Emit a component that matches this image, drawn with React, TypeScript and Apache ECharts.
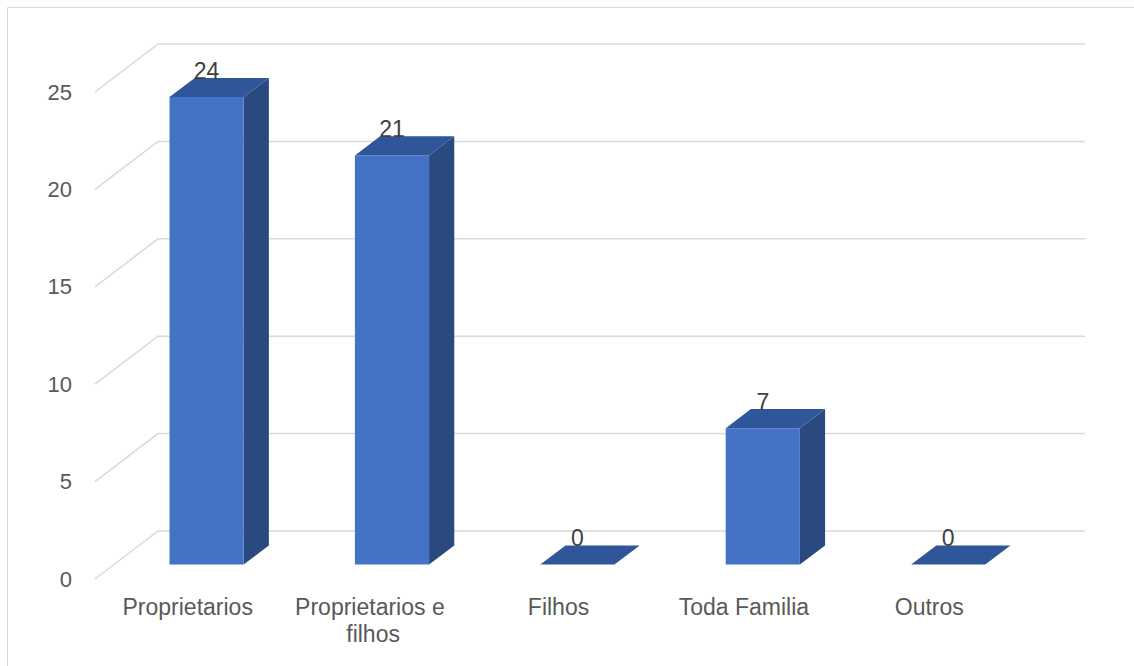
import React, { useEffect, useRef } from "react";
import * as echarts from "echarts";

// Chart data
const categories = ["Proprietarios", "Proprietarios e filhos", "Filhos", "Toda Familia", "Outros"];
const values = [24, 21, 0, 7, 0];
const yTicks = [0, 5, 10, 15, 20, 25];

// 3D look: floor depth vector (front edge -> back wall) in pixels
const DEPTH_X = 63;
const DEPTH_Y = -48;
// bar placement inside the floor depth and band
const BAR_FRONT = 0.3;
const BAR_BACK = 0.7;
const BAR_WIDTH = 0.4;

const FRONT_COLOR = "#4472C4";
const SIDE_COLOR = "#2A4A7F";
const TOP_COLOR = "#30569A";
const GRID_COLOR = "#d9d9d9";
const FONT = "Liberation Sans, Arial, sans-serif";

export default function App() {
  const ref = useRef<HTMLDivElement>(null);

  useEffect(() => {
    const chart = echarts.init(ref.current!, null, { renderer: "svg" });

    const option = {
      animation: false,
      backgroundColor: "#ffffff",
      graphic: [
        {
          type: "rect",
          silent: true,
          shape: { x: 7.5, y: 7.5, width: 1140, height: 670 },
          style: { fill: "none", stroke: GRID_COLOR, lineWidth: 1 },
        },
      ],
      grid: { left: 95, right: 112, top: 92, bottom: 87, containLabel: false },
      xAxis: {
        type: "category",
        data: categories,
        axisLine: { show: false },
        axisTick: { show: false },
        splitLine: { show: false },
        axisLabel: {
          interval: 0,
          color: "#595959",
          fontSize: 23,
          fontFamily: FONT,
          margin: 14,
          width: 180,
          overflow: "break",
          lineHeight: 27,
        },
      },
      yAxis: {
        type: "value",
        min: 0,
        max: 25,
        interval: 5,
        axisLine: { show: false },
        axisTick: { show: false },
        splitLine: { show: false },
        axisLabel: { color: "#595959", fontSize: 22, fontFamily: FONT, margin: 23 },
      },
      series: [
        {
          // side wall + back wall gridlines
          type: "custom",
          silent: true,
          z: 1,
          data: yTicks.map((v) => [0, v]),
          renderItem: (params: any, api: any) => {
            const cs = params.coordSys;
            const y = api.coord([0, api.value(1)])[1];
            const x0 = cs.x;
            const x1 = cs.x + cs.width;
            return {
              type: "polyline",
              shape: {
                points: [
                  [x0, y],
                  [x0 + DEPTH_X, y + DEPTH_Y],
                  [x1 + DEPTH_X, y + DEPTH_Y],
                ],
              },
              style: { stroke: GRID_COLOR, lineWidth: 1.5, fill: null },
            };
          },
        },
        {
          // 3D columns with value labels
          type: "custom",
          z: 2,
          data: values.map((v, i) => [i, v]),
          renderItem: (params: any, api: any) => {
            const i = api.value(0);
            const v = api.value(1);
            const base = api.coord([i, 0]);
            const top = api.coord([i, v]);
            const bw = api.size([1, 0])[0] * BAR_WIDTH;
            const fx = base[0] + DEPTH_X * BAR_FRONT;
            const fdy = DEPTH_Y * BAR_FRONT;
            const xl = fx - bw / 2;
            const xr = fx + bw / 2;
            const yb = base[1] + fdy;
            const yt = top[1] + fdy;
            const ddx = DEPTH_X * (BAR_BACK - BAR_FRONT);
            const ddy = DEPTH_Y * (BAR_BACK - BAR_FRONT);
            return {
              type: "group",
              children: [
                {
                  type: "polygon",
                  shape: { points: [[xr, yb], [xr + ddx, yb + ddy], [xr + ddx, yt + ddy], [xr, yt]] },
                  style: { fill: SIDE_COLOR },
                },
                {
                  type: "rect",
                  shape: { x: xl, y: yt, width: bw, height: yb - yt },
                  style: { fill: FRONT_COLOR },
                },
                {
                  type: "polygon",
                  shape: { points: [[xl, yt], [xr, yt], [xr + ddx, yt + ddy], [xl + ddx, yt + ddy]] },
                  style: { fill: TOP_COLOR },
                },
                {
                  type: "text",
                  style: {
                    text: String(v),
                    x: fx,
                    y: yt + ddy - 7,
                    fill: "#404040",
                    font: `23px ${FONT}`,
                    align: "center",
                    verticalAlign: "middle",
                  },
                },
              ],
            };
          },
        },
      ],
    };

    chart.setOption(option as any);
    return () => chart.dispose();
  }, []);

  return (
    <div
      ref={ref}
      style={{ position: "absolute", left: 0, top: 0, width: 1134, height: 666 }}
    />
  );
}
